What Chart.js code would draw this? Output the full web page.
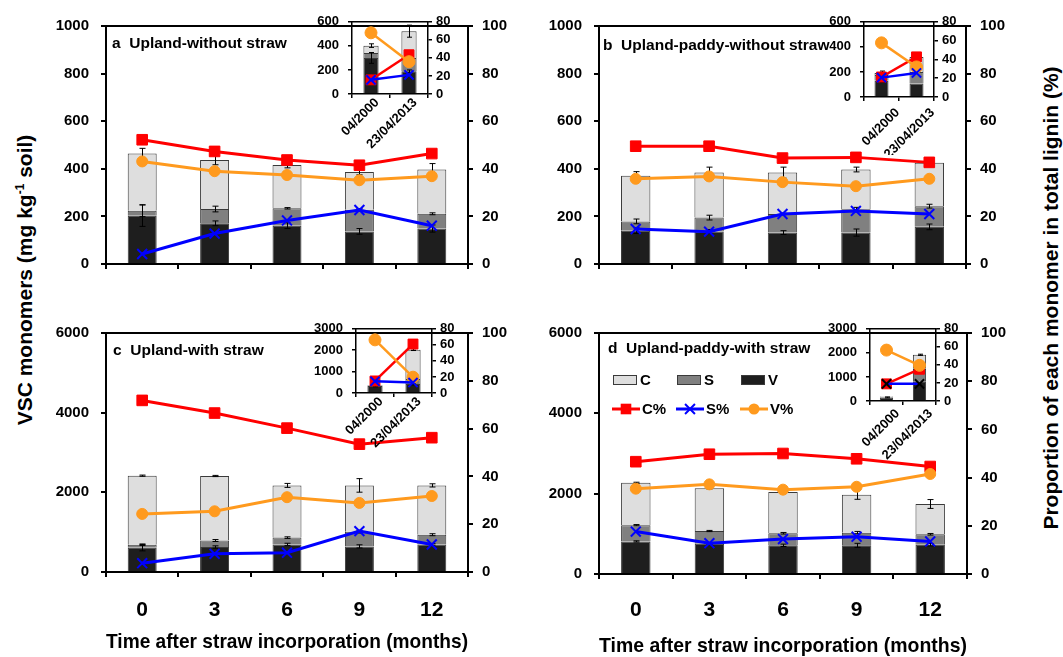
<!DOCTYPE html>
<html>
<head>
<meta charset="utf-8">
<script src="https://cdn.jsdelivr.net/npm/chart.js@4.4.0/dist/chart.umd.min.js"></script>
<style>
  body { margin: 0; background: #fff; }
  #wrap { position: relative; width: 1063px; height: 657px; overflow: hidden; font-family: 'Liberation Sans', Arial, sans-serif; }
  #wrap canvas { position: absolute; }
  .ytitle { position: absolute; font-weight: bold; font-size: 21px; white-space: nowrap; line-height: 24px;
            transform: translate(-50%, -50%) rotate(-90deg); }
  .ytitle sup { font-size: 12px; line-height: 0; }
</style>
</head>
<body>
<div id="wrap">
  <div class="ytitle" style="left:25px; top:280px;">VSC monomers (mg kg<sup>-1</sup> soil)</div>
  <div class="ytitle" style="left:1051px; top:298px;">Proportion of each monomer in total lignin (%)</div>
</div>
<script>
const months = ['0', '3', '6', '9', '12'];
const insetDates = ['04/2000', '23/04/2013'];

// a  Upland-without straw
const aV = [203, 171, 161, 137, 149];
const aS = [21, 60, 73, 91, 62];
const aC = [240, 206, 182, 159, 186];
const aVErr = [45, 10, 12, 12, 15];
const aSErr = [25, 12, 3, 5, 4];
const aCErr = [22, 20, 12, 12, 25];
const aCPct = [52.2, 47.3, 43.7, 41.5, 46.4];
const aSPct = [4.2, 12.8, 18.3, 22.7, 16.1];
const aVPct = [43.1, 39.0, 37.4, 35.2, 36.9];
const aInsetV = [300, 190];
const aInsetS = [40, 110];
const aInsetC = [62, 222];
const aInsetVErr = [45, 10];
const aInsetCErr = [15, 50];
const aInsetCPct = [15.7, 43.5];
const aInsetSPct = [15.7, 21.2];
const aInsetVPct = [67.8, 35.8];

// b  Upland-paddy-without straw
const bV = [140, 137, 132, 132, 156];
const bS = [39, 58, 78, 98, 87];
const bC = [192, 189, 174, 167, 182];
const bVErr = [12, 8, 8, 15, 12];
const bSErr = [10, 10, 3, 8, 8];
const bCErr = [17, 23, 23, 10, 4];
const bCPct = [49.5, 49.5, 44.5, 44.8, 42.7];
const bSPct = [14.7, 13.6, 21.0, 22.3, 21.0];
const bVPct = [35.8, 36.8, 34.4, 32.7, 35.8];
const bInsetV = [130, 107];
const bInsetS = [45, 93];
const bInsetC = [17, 120];
const bInsetVErr = [10, 0];
const bInsetCErr = [15, 8];
const bInsetCPct = [21.3, 42.7];
const bInsetSPct = [20.6, 25.6];
const bInsetVPct = [57.6, 32.0];

// c  Upland-with straw
const cV = [611, 627, 692, 643, 692];
const cS = [73, 163, 171, 366, 244];
const cC = [1734, 1620, 1311, 1165, 1238];
const cVErr = [80, 30, 30, 40, 20];
const cSErr = [20, 25, 20, 30, 25];
const cCErr = [15, 15, 50, 170, 40];
const cCPct = [71.8, 66.5, 60.2, 53.5, 56.2];
const cSPct = [3.7, 7.6, 8.1, 17.1, 11.5];
const cVPct = [24.3, 25.4, 31.3, 28.9, 31.8];
const cInsetV = [330, 420];
const cInsetS = [20, 230];
const cInsetC = [20, 1375];
const cInsetVErr = [40, 40];
const cInsetCErr = [0, 40];
const cInsetCPct = [15.0, 61.0];
const cInsetSPct = [14.6, 13.0];
const cInsetVPct = [66.2, 19.7];

// d  Upland-paddy-with straw
const dV = [811, 754, 714, 714, 730];
const dS = [405, 316, 300, 316, 259];
const dC = [1054, 1062, 1029, 940, 754];
const dVErr = [15, 20, 30, 50, 30];
const dSErr = [15, 15, 20, 30, 20];
const dCErr = [15, 15, 25, 110, 110];
const dCPct = [46.6, 49.7, 50.0, 47.8, 44.6];
const dSPct = [17.6, 12.8, 14.5, 15.5, 13.5];
const dVPct = [35.4, 37.2, 35.0, 36.2, 41.5];
const dInsetV = [150, 820];
const dInsetS = [20, 520];
const dInsetC = [15, 580];
const dInsetVErr = [20, 0];
const dInsetCErr = [0, 25];
const dInsetCPct = [19.0, 35.2];
const dInsetSPct = [19.0, 19.0];
const dInsetVPct = [56.4, 39.5];

const RED = '#ff0000', BLUE = '#0000ff', ORANGE = '#ff9a1e';
const FILL_V = '#1e1e1e', FILL_S = '#808080', FILL_C = '#dedede';
const FONT = "'Liberation Sans', Arial, sans-serif";
const X_TITLE = 'Time after straw incorporation (months)';

Chart.defaults.font.family = FONT;
Chart.defaults.font.weight = 'bold';
Chart.defaults.color = '#000';

const MAIN = { tickFont: 15, xFont: 21, lineW: 3, axisW: 2, tickLen: 5, cap: 6,
               rect: 7.5, cross: 7, circle: 5.5, yPad: 12, y1Pad: 9 };
const INSET = { tickFont: 13, xFont: 13, lineW: 2.5, axisW: 1.5, tickLen: 4, cap: 5,
                rect: 7, cross: 6.5, circle: 6, yPad: 9, y1Pad: 4 };

// error bars are drawn once every bar segment is on the canvas
const errorBars = {
  id: 'errorBars',
  beforeDatasetsDraw(chart) { chart.$barsDone = 0; },
  afterDatasetDraw(chart, args, opts) {
    if (args.meta.type !== 'bar') return;
    chart.$barsDone++;
    const sets = chart.data.datasets;
    if (chart.$barsDone < sets.filter(d => d.type === 'bar').length) return;
    const ctx = chart.ctx, y = chart.scales.y;
    ctx.save();
    ctx.strokeStyle = '#000';
    ctx.lineWidth = 1;
    sets.forEach((ds, i) => {
      if (!ds.errors) return;
      const meta = chart.getDatasetMeta(i);
      ds.errors.forEach((e, j) => {
        if (!e) return;
        const el = meta.data[j];
        const d = Math.abs(y.getPixelForValue(0) - y.getPixelForValue(e));
        const x = Math.round(el.x) + 0.5;
        ctx.beginPath();
        ctx.moveTo(x, el.y - d); ctx.lineTo(x, el.y + d);
        ctx.moveTo(x - opts.cap / 2, el.y - d); ctx.lineTo(x + opts.cap / 2, el.y - d);
        ctx.moveTo(x - opts.cap / 2, el.y + d); ctx.lineTo(x + opts.cap / 2, el.y + d);
        ctx.stroke();
      });
    });
    ctx.restore();
  }
};

function drawMarker(ctx, shape, x, y, r, color) {
  ctx.fillStyle = color; ctx.strokeStyle = color;
  if (shape === 'rect') {
    const s = r * Math.SQRT1_2;
    ctx.fillRect(x - s, y - s, 2 * s, 2 * s);
  } else if (shape === 'circle') {
    ctx.beginPath(); ctx.arc(x, y, r, 0, Math.PI * 2); ctx.fill();
  } else {
    const s = r * Math.SQRT1_2;
    ctx.lineWidth = 2;
    ctx.beginPath();
    ctx.moveTo(x - s, y - s); ctx.lineTo(x + s, y + s);
    ctx.moveTo(x - s, y + s); ctx.lineTo(x + s, y - s);
    ctx.stroke();
  }
}

function drawLegend(chart) {
  const ctx = chart.ctx, a = chart.chartArea, sets = chart.data.datasets;
  const x0 = a.left + 14, gap = 64, r1 = a.top + 47, r2 = a.top + 76;
  ctx.font = 'bold 15px ' + FONT;
  ctx.textBaseline = 'middle';
  ctx.textAlign = 'left';
  sets.filter(d => d.type === 'bar').reverse().forEach((d, i) => {
    const x = x0 + i * gap;
    ctx.fillStyle = d.backgroundColor;
    ctx.fillRect(x, r1 - 5, 24, 10);
    ctx.strokeStyle = '#3a3a3a'; ctx.lineWidth = 1;
    ctx.strokeRect(x + 0.5, r1 - 4.5, 23, 9);
    ctx.fillStyle = '#000';
    ctx.fillText(d.label, x + 27, r1 + 1);
  });
  sets.filter(d => d.type === 'line').forEach((d, i) => {
    const x = x0 + i * gap - 1;
    ctx.strokeStyle = d.borderColor; ctx.lineWidth = 3;
    ctx.beginPath(); ctx.moveTo(x, r2); ctx.lineTo(x + 28, r2); ctx.stroke();
    drawMarker(ctx, d.pointStyle, x + 14, r2, d.pointRadius, d.borderColor);
    ctx.fillStyle = '#000';
    ctx.fillText(d.label, x + 30, r2 + 1);
  });
}

const decor = {
  id: 'decor',
  afterDatasetsDraw(chart, args, o) {
    const ctx = chart.ctx, a = chart.chartArea;
    ctx.save();
    ctx.strokeStyle = '#000';
    ctx.lineWidth = o.frame;
    ctx.beginPath(); ctx.moveTo(a.left - o.frame / 2, a.top); ctx.lineTo(a.right + o.frame / 2, a.top); ctx.stroke();
    if (o.title) {
      ctx.fillStyle = '#000';
      ctx.font = 'bold 15.5px ' + FONT;
      ctx.textBaseline = 'middle';
      ctx.textAlign = 'left';
      ctx.fillText(o.title, a.left + o.tx, a.top + o.ty);
    }
    if (o.legend) drawLegend(chart);
    ctx.restore();
  }
};

function makeCanvas(box) {
  const cv = document.createElement('canvas');
  cv.width = box.w; cv.height = box.h;
  cv.style.left = box.x + 'px'; cv.style.top = box.y + 'px';
  cv.style.width = box.w + 'px'; cv.style.height = box.h + 'px';
  document.getElementById('wrap').appendChild(cv);
  return cv;
}

function barSet(label, data, errors, fill) {
  return { type: 'bar', label, data, errors, backgroundColor: fill, borderColor: '#3a3a3a', borderWidth: 1,
           yAxisID: 'y', stack: 'm', order: 1, barPercentage: 0.4, categoryPercentage: 1 };
}

function lineSet(label, data, color, shape, radius, order, st, markColor) {
  return { type: 'line', label, data, yAxisID: 'y1', order,
           borderColor: color, backgroundColor: color, borderWidth: st.lineW,
           pointStyle: shape, pointRadius: radius, pointHoverRadius: radius,
           pointBackgroundColor: color, pointBorderColor: markColor || color,
           pointBorderWidth: shape === 'crossRot' ? 2 : 1 };
}

function buildChart(box, area, labels, s, st, ex) {
  const cv = makeCanvas(box);
  const tickFont = { size: st.tickFont, weight: 'bold' };
  const axisGrid = { drawOnChartArea: false, drawTicks: true, tickLength: st.tickLen, color: '#000', lineWidth: st.axisW };
  const axisBorder = { display: true, color: '#000', width: st.axisW };
  const plain = v => String(v);
  return new Chart(cv, {
    type: 'bar',
    data: {
      labels: labels,
      datasets: [
        barSet('V', s.V, s.VErr, FILL_V),
        barSet('S', s.S, s.SErr, FILL_S),
        barSet('C', s.C, s.CErr, FILL_C),
        lineSet('C%', s.CPct, RED, 'rect', st.rect, 0, st),
        lineSet('S%', s.SPct, BLUE, 'crossRot', st.cross, -2, st, ex.crossColor),
        lineSet('V%', s.VPct, ORANGE, 'circle', st.circle, -1, st)
      ]
    },
    options: {
      responsive: false,
      animation: false,
      devicePixelRatio: 1,
      events: [],
      layout: { padding: { top: area.top - box.y, left: 0, right: 0, bottom: 0 } },
      plugins: {
        legend: { display: false },
        tooltip: { enabled: false },
        errorBars: { cap: st.cap },
        decor: { frame: st.axisW, title: ex.title, tx: ex.tx || 0, ty: ex.ty || 0, legend: !!ex.legend }
      },
      scales: {
        x: {
          stacked: true,
          offset: true,
          grid: Object.assign({ offset: true }, axisGrid),
          border: axisBorder,
          ticks: { display: ex.showX, autoSkip: false, font: { size: st.xFont, weight: 'bold' },
                   padding: ex.xPad || 0, minRotation: ex.rot || 0, maxRotation: ex.rot || 0,
                   labelOffset: ex.labelOffset || 0 },
          title: { display: !!ex.xTitle, text: ex.xTitle || '', color: '#000',
                   font: { size: 20.5, weight: 'bold', lineHeight: 1 },
                   padding: { top: 0, bottom: ex.titlePad || 0 } },
          afterFit: sc => { sc.height = box.y + box.h - area.bottom; }
        },
        y: {
          position: 'left',
          stacked: true,
          min: 0, max: ex.yMax,
          ticks: { stepSize: ex.yStep, autoSkip: false, font: tickFont, padding: st.yPad, callback: plain },
          grid: axisGrid,
          border: axisBorder,
          afterFit: sc => { sc.width = area.left - box.x; }
        },
        y1: {
          position: 'right',
          min: 0, max: ex.y1Max,
          ticks: { stepSize: ex.y1Step, autoSkip: false, font: tickFont, padding: st.y1Pad, callback: plain },
          grid: axisGrid,
          border: axisBorder,
          afterFit: sc => { sc.width = box.x + box.w - area.right; }
        }
      }
    },
    plugins: [errorBars, decor]
  });
}

function series(V, S, C, VErr, SErr, CErr, CPct, SPct, VPct) {
  return { V, S, C, VErr, SErr, CErr, CPct, SPct, VPct };
}

// main panels
buildChart({ x: 30, y: 5, w: 500, h: 280 }, { left: 106, right: 468, top: 18, bottom: 272 }, months,
  series(aV, aS, aC, aVErr, aSErr, aCErr, aCPct, aSPct, aVPct), MAIN,
  { yMax: 1000, yStep: 200, y1Max: 100, y1Step: 20, showX: false, title: 'a  Upland-without straw', tx: 6, ty: 18 });

buildChart({ x: 525, y: 5, w: 505, h: 280 }, { left: 599, right: 966, top: 19, bottom: 270 }, months,
  series(bV, bS, bC, bVErr, bSErr, bCErr, bCPct, bSPct, bVPct), MAIN,
  { yMax: 1000, yStep: 200, y1Max: 100, y1Step: 20, showX: false, title: 'b  Upland-paddy-without straw', tx: 4, ty: 20 });

buildChart({ x: 30, y: 312, w: 500, h: 345 }, { left: 106, right: 468, top: 325, bottom: 572 }, months,
  series(cV, cS, cC, cVErr, cSErr, cCErr, cCPct, cSPct, cVPct), MAIN,
  { yMax: 6000, yStep: 2000, y1Max: 100, y1Step: 20, showX: true, xPad: 21, xTitle: X_TITLE, titlePad: 4,
    title: 'c  Upland-with straw', tx: 7, ty: 18 });

buildChart({ x: 525, y: 312, w: 505, h: 345 }, { left: 599, right: 967, top: 325, bottom: 574 }, months,
  series(dV, dS, dC, dVErr, dSErr, dCErr, dCPct, dSPct, dVPct), MAIN,
  { yMax: 6000, yStep: 2000, y1Max: 100, y1Step: 20, showX: true, xPad: 19, xTitle: X_TITLE, titlePad: 0,
    title: 'd  Upland-paddy-with straw', tx: 9, ty: 16, legend: true });

// insets
buildChart({ x: 300, y: 5, w: 170, h: 150 }, { left: 352, right: 428, top: 18, bottom: 94 }, insetDates,
  series(aInsetV, aInsetS, aInsetC, aInsetVErr, null, aInsetCErr, aInsetCPct, aInsetSPct, aInsetVPct), INSET,
  { yMax: 600, yStep: 200, y1Max: 80, y1Step: 20, showX: true, rot: 45, xPad: -3, labelOffset: 6 });

buildChart({ x: 812, y: 5, w: 170, h: 150 }, { left: 864, right: 934, top: 21, bottom: 97 }, insetDates,
  series(bInsetV, bInsetS, bInsetC, bInsetVErr, null, bInsetCErr, bInsetCPct, bInsetSPct, bInsetVPct), INSET,
  { yMax: 600, yStep: 200, y1Max: 80, y1Step: 20, showX: true, rot: 45, xPad: 4, labelOffset: 16 });

buildChart({ x: 304, y: 312, w: 170, h: 150 }, { left: 356, right: 432, top: 326, bottom: 393 }, insetDates,
  series(cInsetV, cInsetS, cInsetC, cInsetVErr, null, cInsetCErr, cInsetCPct, cInsetSPct, cInsetVPct), INSET,
  { yMax: 3000, yStep: 1000, y1Max: 80, y1Step: 20, showX: true, rot: 45, xPad: -3, labelOffset: 6 });

buildChart({ x: 818, y: 312, w: 170, h: 150 }, { left: 870, right: 936, top: 325, bottom: 401 }, insetDates,
  series(dInsetV, dInsetS, dInsetC, dInsetVErr, null, dInsetCErr, dInsetCPct, dInsetSPct, dInsetVPct), INSET,
  { yMax: 3000, yStep: 1000, y1Max: 80, y1Step: 20, showX: true, rot: 45, xPad: 1, labelOffset: 11, crossColor: '#000' });
</script>
</body>
</html>
